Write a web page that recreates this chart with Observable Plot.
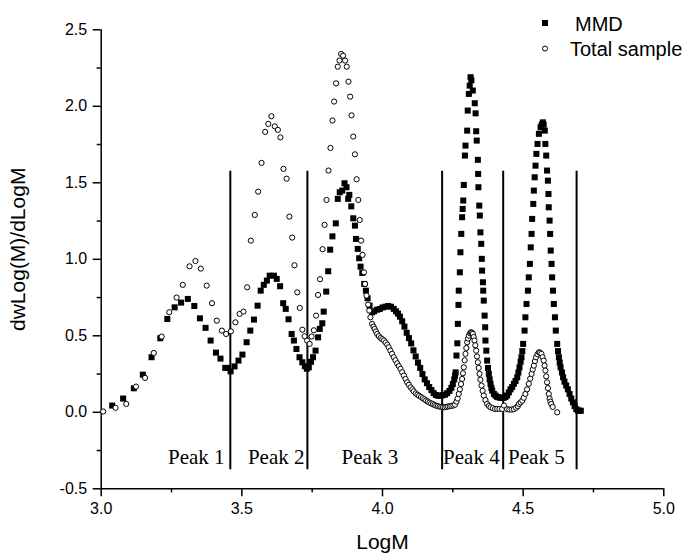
<!DOCTYPE html>
<html><head><meta charset="utf-8">
<script src="https://cdn.jsdelivr.net/npm/d3@7"></script>
<script src="https://cdn.jsdelivr.net/npm/@observablehq/plot@0.6"></script>
<style>
body{margin:0;background:#fff;}
#wrap{position:relative;width:690px;height:553px;overflow:hidden;}
#legend{position:absolute;left:0;top:0;pointer-events:none;}
</style></head><body>
<div id="wrap"><div id="chart"></div>
<svg id="legend" width="690" height="70" font-family="Liberation Sans, Arial, sans-serif" font-size="20">
  <rect x="542" y="20" width="6" height="6" fill="#000"></rect>
  <text x="575" y="30.5">MMD</text>
  <circle cx="545" cy="48.5" r="2.5" fill="#fff" stroke="#000" stroke-width="1"></circle>
  <text x="570" y="55.5">Total sample</text>
</svg>
</div>
<script>
// MMD series (filled squares)
const mmdX = [3.039,3.078,3.116,3.148,3.179,3.210,3.235,3.261,3.284,3.308,3.331,3.351,3.371,3.389,3.408,3.424,3.441,3.451,3.460,3.474,
3.488,3.502,3.517,3.530,3.543,3.556,3.567,3.578,3.589,3.599,3.614,3.624,3.636,3.647,3.656,3.666,3.677,3.685,3.694,3.705,
3.715,3.724,3.731,3.738,3.746,3.753,3.762,3.771,3.777,3.786,3.791,3.800,3.807,3.814,3.822,3.834,3.841,3.848,3.857,3.865,
3.872,3.878,3.882,3.889,3.896,3.902,3.906,3.912,3.917,3.922,3.928,3.935,3.941,3.947,3.954,3.963,
3.970,3.980,3.990,4.000,4.010,4.020,4.030,4.040,4.048,4.055,4.062,4.070,4.078,4.086,4.094,4.102,4.110,4.118,4.126,4.134,
4.142,4.150,4.158,4.166,4.174,4.182,4.190,4.198,4.206,4.214,4.222,4.230,4.238,4.245,4.250,4.255,4.258,
4.260,4.263,4.266,4.268,4.270,4.271,4.275,4.277,4.280,4.283,4.285,4.287,4.289,4.293,4.295,4.301,4.303,4.307,4.310,4.313,
4.316,4.321,4.328,4.331,4.333,4.335,4.339,4.340,4.341,4.344,4.346,4.348,4.351,4.353,4.354,4.357,4.358,4.360,4.363,4.365,
4.366,4.369,4.372,4.375,4.378,4.381,4.384,4.387,4.390,4.396,4.402,4.408,4.413,4.419,4.425,4.431,4.437,4.443,4.449,4.455,
4.461,4.467,4.473,4.479,4.483,4.487,4.491,4.494,4.497,4.500,4.505,4.508,4.512,4.517,4.520,4.524,4.527,4.530,4.532,4.536,
4.538,4.541,4.544,4.547,4.551,4.556,4.562,4.566,4.570,4.573,4.577,4.579,4.582,4.585,4.588,4.590,4.591,4.594,4.596,4.598,
4.601,4.603,4.606,4.609,4.613,4.616,4.621,4.624,4.627,4.630,4.633,4.638,4.642,4.647,4.653,4.659,4.665,4.671,4.677,4.683,
4.689,4.695,4.700,4.705];
const mmdY = [0.044,0.090,0.157,0.246,0.360,0.484,0.610,0.686,0.717,0.741,0.695,0.614,0.552,0.469,0.390,0.351,0.290,0.290,0.268,0.300,
0.338,0.377,0.458,0.534,0.606,0.697,0.795,0.833,0.861,0.893,0.893,0.872,0.824,0.713,0.676,0.608,0.512,0.469,0.414,0.360,
0.327,0.301,0.285,0.294,0.330,0.360,0.403,0.490,0.545,0.582,0.658,0.789,0.922,1.063,1.150,1.235,1.395,1.438,1.449,1.497,
1.471,1.395,1.421,1.346,1.268,1.220,1.133,1.068,1.007,0.952,0.911,0.839,0.795,0.745,0.697,0.654,
0.660,0.670,0.675,0.685,0.690,0.695,0.690,0.676,0.660,0.645,0.625,0.595,0.560,0.520,0.485,0.450,0.405,0.365,0.325,0.290,
0.250,0.215,0.190,0.165,0.145,0.125,0.113,0.108,0.108,0.112,0.115,0.125,0.140,0.160,0.185,0.215,0.240,
0.261,0.371,0.451,0.578,0.702,0.795,0.915,1.046,1.166,1.275,1.329,1.384,1.486,1.678,1.743,1.841,1.972,2.081,2.135,2.190,
2.170,2.103,2.020,1.954,1.837,1.776,1.650,1.558,1.471,1.351,1.286,1.176,1.101,1.003,0.926,0.850,0.795,0.730,0.632,0.556,
0.469,0.403,0.338,0.290,0.251,0.215,0.186,0.160,0.142,0.120,0.109,0.100,0.098,0.095,0.094,0.095,0.100,0.110,0.130,0.150,
0.165,0.186,0.205,0.229,0.260,0.294,0.330,0.360,0.400,0.447,0.534,0.621,0.708,0.795,0.882,0.970,1.078,1.166,1.264,1.362,
1.449,1.536,1.612,1.689,1.754,1.820,1.863,1.880,1.895,1.880,1.841,1.754,1.678,1.580,1.514,1.427,1.340,1.253,1.166,1.057,
0.970,0.882,0.795,0.708,0.621,0.534,0.447,0.400,0.360,0.325,0.294,0.260,0.229,0.200,0.175,0.150,0.120,0.090,0.065,0.040,
0.020,0.012,0.010,0.010];

// Total sample series (open circles)
const totX = [3.007,3.051,3.089,3.124,3.156,3.187,3.215,3.242,3.268,3.290,3.314,3.335,3.354,3.375,3.394,3.411,3.429,3.444,3.461,3.477,
3.492,3.506,3.519,3.532,3.546,3.558,3.570,3.583,3.594,3.605,3.617,3.628,3.637,3.648,3.659,3.669,3.679,3.687,3.697,3.706,
3.715,3.723,3.732,3.741,3.748,3.756,3.764,3.771,3.778,3.787,3.794,3.801,3.808,3.815,3.822,3.828,3.835,3.841,3.847,3.853,
3.860,3.867,3.873,3.879,3.885,3.890,3.896,3.902,3.908,3.914,3.919,3.924,3.929,3.934,3.938,3.943,3.949,3.953,3.957,3.963,
3.968,3.972,3.977,3.981,3.987,3.993,3.999,4.005,4.011,4.017,4.022,4.028,4.034,4.040,4.046,4.052,4.058,4.064,4.070,4.076,
4.082,4.088,4.094,4.100,4.106,4.111,4.118,4.124,4.130,4.137,4.143,4.149,4.155,4.161,4.167,4.173,4.179,4.185,4.191,4.197,
4.203,4.209,4.215,4.221,4.227,4.233,4.239,4.245,4.252,4.258,4.263,4.267,4.271,4.275,4.279,4.283,4.286,4.289,4.292,4.295,
4.298,4.301,4.304,4.307,4.311,4.314,4.318,4.321,4.324,4.327,4.330,4.333,4.336,4.339,4.342,4.345,4.348,4.352,4.356,4.360,
4.366,4.372,4.378,4.384,4.392,4.400,4.408,4.416,4.425,4.432,4.443,4.451,4.459,4.467,4.475,4.481,4.485,4.491,4.497,4.502,
4.508,4.514,4.520,4.525,4.530,4.534,4.538,4.542,4.546,4.551,4.556,4.560,4.565,4.569,4.573,4.576,4.579,4.582,4.585,4.588,
4.591,4.594,4.597,4.600,4.605,4.621];
const totY = [0.005,0.029,0.055,0.168,0.225,0.388,0.495,0.654,0.750,0.833,0.954,0.989,0.939,0.828,0.713,0.599,0.534,0.512,0.529,0.588,
0.643,0.658,0.817,1.122,1.290,1.442,1.630,1.833,1.885,1.935,1.869,1.846,1.797,1.591,1.527,1.279,1.142,0.961,0.784,0.682,
0.540,0.497,0.469,0.447,0.495,0.536,0.632,0.767,0.870,1.066,1.225,1.388,1.580,1.728,1.907,2.031,2.150,2.259,2.299,2.342,
2.331,2.299,2.259,2.161,2.063,1.941,1.802,1.686,1.523,1.388,1.257,1.122,1.029,0.915,0.839,0.763,0.704,0.665,0.621,0.578,
0.560,0.545,0.528,0.512,0.498,0.486,0.478,0.469,0.456,0.442,0.425,0.403,0.382,0.360,0.340,0.320,0.302,0.284,0.262,0.240,
0.218,0.196,0.180,0.163,0.150,0.137,0.124,0.115,0.108,0.100,0.092,0.085,0.077,0.070,0.063,0.058,0.053,0.048,0.043,0.040,
0.037,0.035,0.033,0.033,0.035,0.038,0.040,0.042,0.045,0.050,0.070,0.090,0.120,0.150,0.185,0.218,0.255,0.294,0.340,0.382,
0.420,0.458,0.482,0.501,0.516,0.523,0.520,0.512,0.492,0.469,0.438,0.403,0.365,0.327,0.290,0.251,0.213,0.175,0.140,0.109,
0.080,0.055,0.042,0.033,0.027,0.022,0.022,0.022,0.022,0.044,0.020,0.018,0.018,0.020,0.030,0.040,0.055,0.065,0.076,0.095,
0.120,0.150,0.186,0.220,0.251,0.280,0.305,0.335,0.360,0.380,0.392,0.390,0.382,0.360,0.338,0.305,0.273,0.235,0.196,0.158,
0.120,0.090,0.070,0.055,0.035,0.000];

const boundaryX = [3.459, 3.733, 4.212, 4.429, 4.690];
const peakLabels = ["Peak 1", "Peak 2", "Peak 3", "Peak 4", "Peak 5"];
const peakLabelX = [3.338, 3.622, 3.955, 4.316, 4.547];
const xTicks = [3.0, 3.5, 4.0, 4.5, 5.0];
const xMinorTicks = [3.25, 3.75, 4.25, 4.75];
const yTicks = [-0.5, 0.0, 0.5, 1.0, 1.5, 2.0, 2.5];
const yMinorTicks = [-0.25, 0.25, 0.75, 1.25, 1.75, 2.25];
const xTitle = "LogM";
const yTitle = "dwLog(M)/dLogM";

const mmd = mmdX.map((x, i) => ({x, y: mmdY[i]}));
const total = totX.map((x, i) => ({x, y: totY[i]}));
const peaks = peakLabels.map((t, i) => ({t, x: peakLabelX[i]}));

const chart = Plot.plot({
  width: 690, height: 553,
  marginLeft: 100.7, marginRight: 26.7, marginTop: 29.3, marginBottom: 64.7,
  x: {domain: [3, 5]},
  y: {domain: [-0.5, 2.5]},
  style: {fontFamily: "Liberation Sans, Arial, sans-serif", fontSize: "16px", color: "#000", background: "#fff"},
  marks: [
    Plot.axisX({ticks: xTicks, tickSize: 8, tickPadding: 6, tickFormat: d => d.toFixed(1), label: null, strokeWidth: 1.5, fontSize: 16}),
    Plot.axisX({ticks: xMinorTicks, tickSize: 4, tickFormat: () => "", label: null, strokeWidth: 1.5}),
    Plot.axisY({ticks: yTicks, tickSize: 8, tickPadding: 6, tickFormat: d => d.toFixed(1), label: null, strokeWidth: 1.5, fontSize: 16}),
    Plot.axisY({ticks: yMinorTicks, tickSize: 4, tickFormat: () => "", label: null, strokeWidth: 1.5}),
    Plot.ruleX([3], {strokeWidth: 1.5}),
    Plot.ruleY([-0.5], {strokeWidth: 1.5}),
    Plot.ruleX(boundaryX, {y1: -0.376, y2: 1.575, strokeWidth: 2}),
    Plot.text(peaks, {x: "x", y: -0.296, text: "t", fontFamily: "Liberation Serif, Times New Roman, serif", fontSize: 21}),
    Plot.dot(mmd, {x: "x", y: "y", symbol: "square", r: 3.4, fill: "#000", stroke: "none"}),
    Plot.dot(total, {x: "x", y: "y", symbol: "circle", r: 2.6, fill: "#fff", stroke: "#000", strokeWidth: 1}),
    Plot.text([xTitle], {frameAnchor: "bottom", textAnchor: "middle", lineAnchor: "middle", dy: 53, fontSize: 21}),
    Plot.text([yTitle], {frameAnchor: "left", textAnchor: "middle", lineAnchor: "middle", rotate: -90, dx: -83, dy: -10, fontSize: 21})
  ]
});
document.getElementById("chart").append(chart);
</script>
</body></html>
